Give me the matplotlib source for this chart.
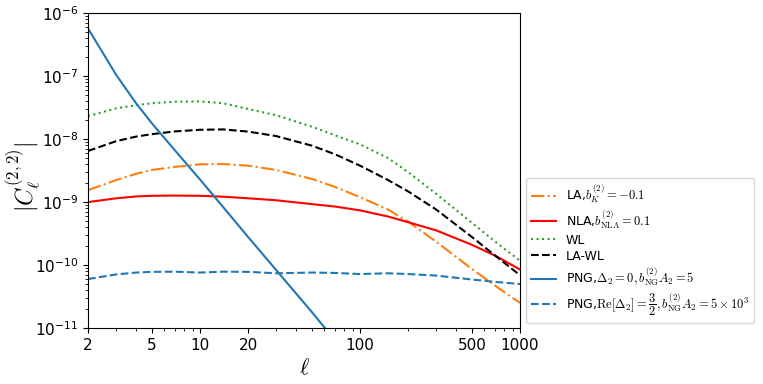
import matplotlib
matplotlib.use("Agg")
import matplotlib.pyplot as plt
from matplotlib.ticker import FixedLocator, FixedFormatter, NullFormatter, LogLocator

plt.rcParams['mathtext.fontset'] = 'cm'
plt.rcParams['font.family'] = ['DejaVu Sans']

ell = [2, 3, 4, 5, 7, 10, 14, 20, 30, 50, 70, 100, 150, 200, 300, 500, 700, 1000]

la = [1.55e-9, 2.24e-9, 2.82e-9, 3.24e-9, 3.63e-9, 3.98e-9, 4.03e-9, 3.80e-9, 3.24e-9,
      2.34e-9, 1.74e-9, 1.20e-9, 7.6e-10, 4.9e-10, 2.34e-10, 8.7e-11, 4.7e-11, 2.5e-11]
nla = [1.00e-9, 1.15e-9, 1.23e-9, 1.26e-9, 1.27e-9, 1.26e-9, 1.22e-9, 1.15e-9, 1.07e-9,
       9.3e-10, 8.5e-10, 7.4e-10, 5.9e-10, 4.8e-10, 3.55e-10, 2.1e-10, 1.41e-10, 8.5e-11]
wl = [2.32e-8, 3.09e-8, 3.47e-8, 3.72e-8, 3.94e-8, 3.98e-8, 3.72e-8, 3.02e-8, 2.40e-8,
      1.58e-8, 1.15e-8, 8.3e-9, 5.0e-9, 3.0e-9, 1.35e-9, 4.7e-10, 2.35e-10, 1.17e-10]
lawl = [6.5e-9, 9.3e-9, 1.10e-8, 1.20e-8, 1.33e-8, 1.41e-8, 1.43e-8, 1.32e-8, 1.12e-8,
        7.9e-9, 5.75e-9, 3.8e-9, 2.24e-9, 1.48e-9, 7.6e-10, 2.8e-10, 1.41e-10, 6.9e-11]
png0 = [5.75e-7, 1.05e-7, 3.7e-8, 1.8e-8, 6.6e-9, 2.3e-9, 8.3e-10, 2.8e-10, 8.3e-11,
        1.8e-11, 6.3e-12, 2.1e-12, 6.3e-13, 2.5e-13, 8e-14, 1.6e-14, 6e-15, 2e-15]
png_re = [6.0e-11, 7.1e-11, 7.6e-11, 7.8e-11, 7.85e-11, 7.6e-11, 7.85e-11, 7.8e-11, 7.4e-11,
          7.6e-11, 7.5e-11, 7.2e-11, 7.4e-11, 7.2e-11, 6.8e-11, 5.9e-11, 5.4e-11, 5.0e-11]

labels = [r'LA,$b_K^{(2)}=-0.1$',
          r'NLA,$b_{\rm NLA}^{(2)}=0.1$',
          'WL',
          'LA-WL',
          r'PNG,$\Delta_2=0, b_{\rm NG}^{(2)}A_2=5$',
          r'PNG,${\rm Re}[\Delta_2]=\dfrac{3}{2}, b_{\rm NG}^{(2)}A_2=5\times10^3$']

xticks = [2, 5, 10, 20, 100, 500, 1000]
xticklabels = ['2', '5', '10', '20', '100', '500', '1000']

fig = plt.figure(figsize=(7.63, 3.84), dpi=100)
ax = fig.add_axes([88/763, 1-328/384, (520-88)/763, (328-13.3)/384])

ax.plot(ell, la, color='C1', ls='-.', lw=1.5, label=labels[0])
ax.plot(ell, nla, color='red', ls='-', lw=1.5, label=labels[1])
ax.plot(ell, wl, color='C2', ls=':', lw=1.5, label=labels[2])
ax.plot(ell, lawl, color='k', ls='--', lw=1.5, label=labels[3])
ax.plot(ell, png0, color='C0', ls='-', lw=1.5, label=labels[4])
ax.plot(ell, png_re, color='C0', ls='--', lw=1.5, label=labels[5])

ax.set_xscale('log')
ax.set_yscale('log')
ax.set_xlim(2, 1000)
ax.set_ylim(1e-11, 1e-6)

ax.xaxis.set_major_locator(FixedLocator(xticks))
ax.xaxis.set_major_formatter(FixedFormatter(xticklabels))
ax.xaxis.set_minor_locator(LogLocator(base=10, subs=range(1, 10)))
ax.xaxis.set_minor_formatter(NullFormatter())
ax.yaxis.set_minor_locator(LogLocator(base=10, subs=range(2, 10), numticks=20))
ax.yaxis.set_minor_formatter(NullFormatter())
ax.tick_params(axis='both', which='major', labelsize=11)

ax.set_xlabel(r'$\ell$', fontsize=16)
ax.set_ylabel(r'$|C_\ell^{(2,2)}|$', fontsize=17)
ax.xaxis.set_label_coords(0.5, -0.095)
ax.yaxis.set_label_coords(-0.105, 0.48)

fig.legend(loc='lower left', bbox_to_anchor=(526/763, 1-323/384), fontsize=9,
           frameon=True, borderaxespad=0, labelspacing=0.25)

fig.savefig('out.png', dpi=100)
